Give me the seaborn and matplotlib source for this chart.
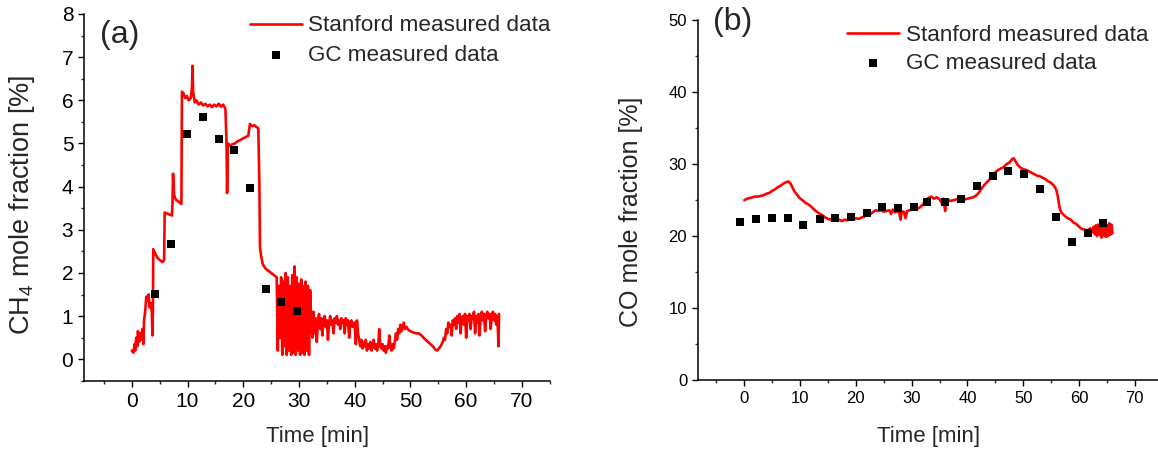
from matplotlib import pyplot as plt
from matplotlib.ticker import MultipleLocator
import seaborn as sns
import pandas as pd
import numpy as np

ch4_time = [0.0, 0.3, 0.5, 0.6, 0.8, 1.0, 1.1, 1.3, 1.5, 1.7, 1.9, 2.1, 2.2, 2.4, 2.6, 2.8, 3.0, 3.2, 3.4, 3.6,
            3.7, 3.8, 3.85, 4.2, 4.6, 5.0, 5.5, 5.8, 5.9, 6.3, 6.8, 7.2, 7.3, 7.4, 7.6, 7.9, 8.4, 8.9, 9.0, 9.3,
            9.6, 9.9, 10.2, 10.6, 10.8, 10.9, 11.0, 11.3, 11.6, 12.0, 12.4, 12.8, 13.2, 13.6, 14.0, 14.4, 14.8, 15.2, 15.6, 16.0,
            16.4, 16.8, 17.0, 17.1, 17.25, 17.6, 18.0, 18.5, 19.0, 19.5, 20.0, 20.5, 20.9, 21.2, 21.6, 22.0, 22.4, 22.7, 22.9, 23.0,
            23.2, 23.5, 24.0, 24.5, 25.0, 25.5, 26.0,
            26.2, 26.4, 26.6, 26.8, 27.0, 27.2, 27.4, 27.6, 27.8, 28.0, 28.2, 28.4, 28.6, 28.8, 29.0, 29.2, 29.4, 29.6, 29.8, 30.0,
            30.2, 30.4, 30.6, 30.8, 31.0, 31.2, 31.4, 31.6, 31.8, 32.0,
            32.2, 32.4, 32.6, 32.8, 33.0, 33.2, 33.4, 33.6, 33.8, 34.0, 34.2, 34.4, 34.6, 34.8, 35.0, 35.2, 35.4, 35.6, 35.8, 36.0,
            36.2, 36.4, 36.6, 36.8, 37.0, 37.2, 37.4, 37.6, 37.8, 38.0, 38.2, 38.4, 38.6, 38.8, 39.0, 39.2, 39.4, 39.6,
            40.0, 40.2, 40.4, 40.6, 40.8, 41.0, 41.2, 41.4, 41.6, 41.8, 42.0, 42.2, 42.4, 42.6, 42.8, 43.0, 43.2, 43.4, 43.6, 43.8,
            44.0, 44.2, 44.4, 44.6, 44.8, 45.0, 45.2, 45.4, 45.6, 45.8, 46.0, 46.2, 46.4, 46.6, 46.8, 47.0, 47.2, 47.4, 47.6, 47.8,
            48.0, 48.2, 48.4, 48.6, 48.8, 49.0, 49.3, 49.6, 50.0, 50.5, 51.0, 51.5, 52.0, 52.5, 53.0, 53.5, 54.0, 54.5, 54.8, 55.1,
            55.4, 55.6, 55.8, 56.0, 56.2, 56.4, 56.6, 56.8, 57.0, 57.2, 57.4, 57.6, 57.8, 58.0, 58.2, 58.4, 58.6, 58.8, 59.0, 59.2,
            59.4, 59.6, 59.8, 60.0, 60.2, 60.4, 60.6, 60.8, 61.0, 61.2, 61.4, 61.6, 61.8, 62.0, 62.2, 62.4, 62.6, 62.8, 63.0, 63.2,
            63.4, 63.6, 63.8, 64.0, 64.2, 64.4, 64.6, 64.8, 65.0, 65.2, 65.4, 65.6, 65.8, 65.9]
ch4_stanford = [0.2, 0.15, 0.35, 0.2, 0.5, 0.3, 0.65, 0.4, 0.6, 0.45, 0.7, 0.35, 0.9, 1.1, 1.45, 1.35, 1.5, 1.2, 1.3, 1.1,
                0.55, 1.2, 2.55, 2.45, 2.35, 2.3, 2.25, 2.3, 3.4, 3.38, 3.35, 3.33, 3.6, 4.3, 3.8, 3.7, 3.65, 3.6, 6.2, 6.15,
                6.05, 6.1, 6.0, 6.05, 6.3, 6.8, 6.2, 5.95, 6.0, 5.9, 5.95, 5.88, 5.92, 5.86, 5.9, 5.84, 5.9, 5.86, 5.92, 5.85,
                5.9, 5.8, 5.0, 3.85, 5.0, 4.95, 4.98, 5.0, 5.05, 5.08, 5.12, 5.15, 5.18, 5.45, 5.4, 5.42, 5.38, 5.35, 4.0, 2.6,
                2.4, 2.2, 2.1, 2.05, 2.0, 1.95, 1.9,
                0.2, 1.7, 0.5, 1.9, 0.1, 1.8, 0.3, 2.0, 0.1, 1.9, 0.2, 1.7, 0.1, 1.95, 0.15, 2.15, 0.1, 1.9, 0.2, 1.75,
                0.1, 1.85, 0.15, 1.7, 0.1, 1.8, 0.2, 1.7, 0.1, 1.6,
                0.9, 0.5, 1.1, 0.6, 0.95, 0.4, 0.9, 1.05, 0.7, 0.95, 0.55, 0.9, 1.0, 0.75, 0.9, 0.45, 0.85, 1.0, 0.8, 0.9,
                0.6, 0.95, 0.85, 1.0, 0.8, 0.9, 0.7, 0.95, 0.85, 0.9, 0.6, 0.95, 0.8, 0.9, 0.5, 0.85, 0.9, 0.75,
                0.85, 0.35, 0.9, 0.6, 0.45, 0.3, 0.45, 0.25, 0.4, 0.3, 0.45, 0.2, 0.35, 0.25, 0.4, 0.2, 0.3, 0.45, 0.25, 0.35,
                0.2, 0.3, 0.7, 0.3, 0.25, 0.35, 0.2, 0.3, 0.15, 0.3, 0.25, 0.55, 0.3, 0.2, 0.35, 0.25, 0.4, 0.6, 0.45, 0.7,
                0.6, 0.8, 0.65, 0.75, 0.85, 0.7, 0.75, 0.68, 0.65, 0.62, 0.6, 0.6, 0.55, 0.48, 0.42, 0.36, 0.3, 0.22, 0.2, 0.25,
                0.3, 0.35, 0.4, 0.5, 0.45, 0.7, 0.6, 0.85, 0.75, 0.8, 0.55, 0.9, 0.8, 0.95, 0.7, 1.0, 0.85, 1.05, 0.6, 0.95,
                1.0, 0.8, 1.05, 0.5, 1.0, 0.9, 1.05, 0.7, 1.0, 0.95, 1.1, 0.6, 1.0, 0.85, 1.05, 0.55, 1.0, 1.1, 0.9, 1.05,
                0.65, 1.0, 1.1, 0.95, 1.05, 0.7, 1.0, 1.1, 0.9, 1.05, 0.8, 1.0, 0.3, 1.05]

# (a) CH4 - GC measured data
ch4_gc_time = [4.1, 7.0, 9.9, 12.8, 15.6, 18.3, 21.2, 24.1, 26.8, 29.6]
ch4_gc = [1.51, 2.67, 5.23, 5.62, 5.10, 4.85, 3.96, 1.63, 1.33, 1.12]

# (b) CO - Stanford measured data
co_time = [0.0, 0.5, 1.0, 1.5, 2.0, 2.5, 3.0, 3.5, 4.0, 4.5, 5.0, 5.5, 6.0, 6.5, 7.0, 7.5, 7.9, 8.3, 8.6, 9.0,
           9.4, 9.8, 10.2, 10.6, 11.0, 11.5, 12.0, 12.5, 13.0, 13.5, 14.0, 14.5, 15.0, 15.5, 16.0, 16.5, 17.0, 17.5, 18.0, 18.5,
           19.0, 19.5, 20.0, 20.5, 21.0, 21.5, 22.0, 22.5, 23.0, 23.5, 24.0, 24.5, 25.0, 25.5, 26.0, 26.3, 26.6, 27.0, 27.4, 27.8,
           28.0, 28.2, 28.6, 28.9, 29.2, 29.6, 30.0, 30.5, 31.0, 31.5, 32.0, 32.5, 33.0, 33.5, 34.0, 34.5, 35.0, 35.4, 35.7, 36.0,
           36.2, 36.6, 37.0, 37.5, 38.0, 38.5, 39.0, 39.5, 40.0, 40.5, 41.0, 41.5, 42.0, 42.5, 43.0, 43.5, 44.0, 44.5, 45.0, 45.5,
           46.0, 46.5, 47.0, 47.5, 48.0, 48.3, 48.6, 49.0, 49.5, 50.0, 50.5, 51.0, 51.5, 52.0, 52.5, 53.0, 53.5, 54.0, 54.5, 55.0,
           55.5, 55.9, 56.2, 56.5, 56.8, 57.2, 57.6, 58.0, 58.5, 59.0, 59.5, 60.0, 60.5, 61.0, 61.5, 62.0, 62.4, 62.6, 62.8, 63.0,
           63.2, 63.4, 63.6, 63.8, 64.0, 64.2, 64.4, 64.6, 64.8, 65.0, 65.2, 65.4, 65.6, 65.8, 66.0]
co_stanford = [25.0, 25.2, 25.3, 25.4, 25.5, 25.5, 25.6, 25.7, 25.9, 26.0, 26.3, 26.5, 26.8, 27.0, 27.3, 27.5, 27.6, 27.3, 26.8, 26.2,
               25.8, 25.4, 25.1, 24.9, 24.6, 24.4, 24.1, 23.7, 23.4, 23.1, 22.9, 22.6, 22.4, 22.3, 22.4, 22.2, 22.3, 22.1, 22.3, 22.2,
               22.4, 22.3, 22.5, 22.4, 22.6, 22.7, 22.9, 23.0, 23.3, 23.6, 23.5, 23.6, 23.4, 23.5, 23.6, 23.1, 23.7, 23.3, 23.5, 23.2,
               22.3, 23.4, 23.4, 22.5, 23.5, 23.6, 23.7, 23.9, 23.8, 24.0, 24.4, 25.0, 25.3, 25.5, 25.2, 25.4, 25.1, 24.6, 25.2, 23.5,
               25.0, 25.0, 24.9, 25.0, 25.1, 25.1, 25.0, 25.1, 25.2, 25.3, 25.4, 25.6, 26.0, 26.6, 27.1, 27.5, 27.9, 28.3, 28.9, 29.2,
               29.4, 29.6, 30.0, 30.2, 30.7, 30.8, 30.4, 29.9, 29.5, 29.3, 29.2, 29.0, 28.8, 28.6, 28.4, 28.3, 28.1, 27.9, 27.6, 27.4,
               27.0, 26.5, 25.5, 24.0, 23.3, 23.0, 22.7, 22.5, 22.3, 21.9, 21.7, 21.3, 21.0, 20.9, 20.8, 21.1, 20.6, 21.3, 20.3, 21.5,
               20.0, 21.6, 20.2, 21.4, 19.8, 21.6, 20.1, 21.7, 19.9, 21.5, 20.0, 21.8, 20.2, 21.6, 20.4]

# (b) CO - GC measured data
co_gc_time = [-0.7, 2.1, 4.9, 7.8, 10.6, 13.5, 16.3, 19.2, 22.0, 24.7, 27.5, 30.5, 32.8,
              36.0, 38.8, 41.7, 44.5, 47.3, 50.1, 53.0, 55.8, 58.7, 61.6, 64.3]
co_gc = [22.0, 22.4, 22.5, 22.5, 21.6, 22.4, 22.5, 22.7, 23.2, 24.05, 23.9, 24.1, 24.7,
         24.7, 25.1, 27.0, 28.4, 29.0, 28.6, 26.5, 22.6, 19.2, 20.4, 21.9]

sns.set_style("ticks")
plt.rcParams['font.family'] = ['Liberation Sans', 'DejaVu Sans']
plt.rcParams['mathtext.fontset'] = 'custom'
plt.rcParams['mathtext.rm'] = 'Liberation Sans'

fig = plt.figure(figsize=(11.58, 4.54), dpi=100)
ax1 = fig.add_axes([0.0729, 0.1612, 0.4021, 0.808])
ax2 = fig.add_axes([0.6030, 0.1623, 0.3970, 0.7936])

RED = "#ff0000"


def style_axis(ax, tick_fs):
    for s in ["top", "right"]:
        ax.spines[s].set_visible(False)
    for s in ["left", "bottom"]:
        ax.spines[s].set_linewidth(1.1)
        ax.spines[s].set_color("black")
    ax.xaxis.set_major_locator(MultipleLocator(10))
    ax.xaxis.set_minor_locator(MultipleLocator(5))
    ax.tick_params(which="major", direction="out", length=4.5, width=1.0, labelsize=tick_fs, colors="black")
    ax.tick_params(which="minor", direction="out", length=2.5, width=1.0)


# panel (a)
sns.lineplot(x=ch4_time, y=ch4_stanford, ax=ax1, color=RED, lw=1.9, estimator=None, sort=False,
             label="Stanford measured data")
sns.scatterplot(x=ch4_gc_time, y=ch4_gc, ax=ax1, color="black", marker="s", s=34, linewidth=0,
                label="GC measured data", zorder=3)
ax1.set_xlim(-8.5, 75.05)
ax1.set_ylim(-0.5, 8)
style_axis(ax1, 15)
ax1.yaxis.set_major_locator(MultipleLocator(1))
ax1.yaxis.set_minor_locator(MultipleLocator(0.5))
ax1.set_ylabel("CH$_4$ mole fraction [%]", fontsize=19.5)
ax1.yaxis.set_label_coords(-0.102, 0.48)
ax1.set_xlabel("Time [min]", fontsize=16)
ax1.xaxis.set_label_coords(0.5, -0.123)
ax1.legend(loc="upper right", bbox_to_anchor=(1.002, 0.996), frameon=False, fontsize=16.2,
           handlelength=2.3, handletextpad=0.3, labelspacing=0.37, borderpad=0, borderaxespad=0,
           scatterpoints=1)

# panel (b)
sns.lineplot(x=co_time, y=co_stanford, ax=ax2, color=RED, lw=1.9, estimator=None, sort=False,
             label="Stanford measured data")
sns.scatterplot(x=co_gc_time, y=co_gc, ax=ax2, color="black", marker="s", s=34, linewidth=0,
                label="GC measured data", zorder=3)
ax2.set_xlim(-8.25, 74.15)
ax2.set_ylim(0, 50)
style_axis(ax2, 12)
ax2.yaxis.set_major_locator(MultipleLocator(10))
ax2.yaxis.set_minor_locator(MultipleLocator(5))
ax2.set_ylabel("CO mole fraction [%]", fontsize=18)
ax2.yaxis.set_label_coords(-0.12, 0.467)
ax2.set_xlabel("Time [min]", fontsize=16)
ax2.xaxis.set_label_coords(0.5, -0.127)
ax2.legend(loc="upper right", bbox_to_anchor=(0.979, 0.986), frameon=False, fontsize=16.2,
           handlelength=2.3, handletextpad=0.3, labelspacing=0.3, borderpad=0, borderaxespad=0,
           scatterpoints=1)

fig.text(0.0864, 0.9046, "(a)", fontsize=23, ha="left", va="baseline")
fig.text(0.6157, 0.934, "(b)", fontsize=23, ha="left", va="baseline")

plt.savefig("out.png", dpi=100)
